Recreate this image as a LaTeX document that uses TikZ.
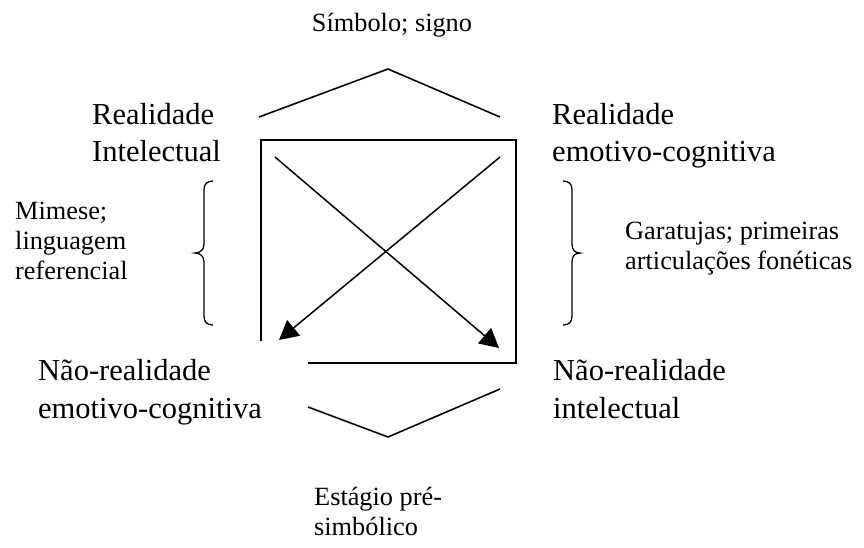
\documentclass[tikz,border=0pt]{standalone}
\usepackage{fontspec}
\setmainfont{Liberation Serif}
\usetikzlibrary{arrows.meta}
\begin{document}
\begin{tikzpicture}[x=1pt,y=-1pt,
  big/.style={font=\fontsize{30.5}{38}\selectfont, inner sep=0pt, anchor=base west},
  small/.style={font=\fontsize{26.3}{30}\selectfont, inner sep=0pt, anchor=base west},
  ln/.style={line width=1.6pt, line join=miter},
  arr/.style={line width=1.5pt, -{Triangle[length=19pt,width=20pt]}},
  bracestyle/.style={line width=1.3pt}]
\useasboundingbox (0,0) rectangle (864,548);
% coordinates
\coordinate (tcl) at (259,117);
\coordinate (tca) at (388,69);
\coordinate (tcr) at (500,117);
\coordinate (bcl) at (308,407);
\coordinate (bca) at (388,437);
\coordinate (bcr) at (500,389);
\coordinate (bx1) at (261,341);
\coordinate (bx2) at (261,140);
\coordinate (bx3) at (516,140);
\coordinate (bx4) at (516,363);
\coordinate (bx5) at (308,363);
\coordinate (a1s) at (275,157);
\coordinate (a1e) at (499,348);
\coordinate (a2s) at (500,157);
\coordinate (a2e) at (279,340);
% chevrons and box
\draw[ln] (tcl) -- (tca) -- (tcr);
\draw[ln] (bcl) -- (bca) -- (bcr);
\draw[ln] (bx1) -- (bx2) -- (bx3) -- (bx4) -- (bx5);
% arrows
\draw[arr] (a1s) -- (a1e);
\draw[arr] (a2s) -- (a2e);
% braces
\draw[bracestyle] (213,181) .. controls (207,181) and (204,184) .. (204,190) -- (204,244)
  .. controls (204,250) and (200,253) .. (195,253)
  .. controls (200,253) and (204,256) .. (204,262) -- (204,316)
  .. controls (204,322) and (207,325) .. (213,325);
\draw[bracestyle] (563,181) .. controls (569,181) and (572,184) .. (572,190) -- (572,244)
  .. controls (572,250) and (575,253) .. (580,253)
  .. controls (575,253) and (572,256) .. (572,262) -- (572,316)
  .. controls (572,322) and (569,325) .. (563,325);
% labels
\node[small, anchor=base] (sim) at (392,32) {Símbolo; signo};
\node[big] (rl1) at (92,125) {Realidade};
\node[big] (rl2) at (92,162) {Intelectual};
\node[big] (rr1) at (552,125) {Realidade};
\node[big] (rr2) at (552,162) {emotivo-cognitiva};
\node[small] (m1) at (15,219) {Mimese;};
\node[small] (m2) at (15,249) {linguagem};
\node[small] (m3) at (15,279) {referencial};
\node[small] (g1) at (625,239) {Garatujas; primeiras};
\node[small] (g2) at (625,269) {articulações fonéticas};
\node[big] (nl1) at (38,380) {Não-realidade};
\node[big] (nl2) at (38,418) {emotivo-cognitiva};
\node[big] (nr1) at (553,380) {Não-realidade};
\node[big] (nr2) at (553,418) {intelectual};
\node[small] (e1) at (314,505) {Estágio pré-};
\node[small] (e2) at (314,535) {simbólico};
\end{tikzpicture}
\end{document}
